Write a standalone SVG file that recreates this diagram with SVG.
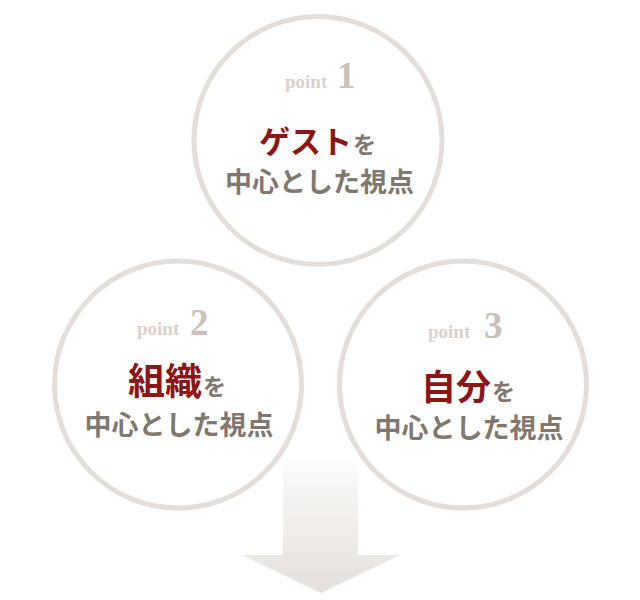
<svg xmlns="http://www.w3.org/2000/svg" width="640" height="600" viewBox="0 0 640 600">
<style>
.ring{fill:#ffffff;stroke:#e3ded9;stroke-width:5}
.pt{font-family:"Liberation Serif",serif;font-weight:bold;fill:#d9d2cb;font-size:19px}
.num{font-family:"Liberation Serif",serif;font-weight:bold;fill:#c9c1b9;font-size:37px}
.key{font-family:"Noto Sans CJK JP",sans-serif;font-weight:bold;fill:#8c1616}
.sub{font-family:"Noto Sans CJK JP",sans-serif;font-weight:bold;fill:#80776f}
</style>
<defs>
<linearGradient id="ag" x1="0" y1="455" x2="0" y2="593" gradientUnits="userSpaceOnUse">
<stop offset="0" stop-color="#ffffff"/>
<stop offset="0.3" stop-color="#f5f3f1"/>
<stop offset="1" stop-color="#e5e0dc"/>
</linearGradient>
</defs>
<g id="arrow">
<path d="M283 455 H358 V555 H400 L321 593 L242 555 H283 Z" fill="url(#ag)"/>
</g>
<g id="point1">
<circle class="ring" cx="318" cy="140.5" r="124"/>
<text x="285" y="88" class="pt">point</text>
<text x="337" y="88" class="num">1</text>
<text x="259" y="153" class="key" font-size="31">ゲスト</text>
<text x="353" y="153" class="sub" font-size="23">を</text>
<text x="319.5" y="192" class="sub" font-size="27" text-anchor="middle">中心とした視点</text>
</g>
<g id="point2">
<circle class="ring" cx="178" cy="384.5" r="123.5"/>
<text x="137" y="335" class="pt">point</text>
<text x="190" y="335" class="num">2</text>
<text x="128" y="395" class="key" font-size="37">組織</text>
<text x="203" y="395" class="sub" font-size="23">を</text>
<text x="179" y="435" class="sub" font-size="27" text-anchor="middle">中心とした視点</text>
</g>
<g id="point3">
<circle class="ring" cx="463" cy="384.5" r="123.5"/>
<text x="428" y="338" class="pt">point</text>
<text x="484" y="338" class="num">3</text>
<text x="421" y="400" class="key" font-size="35">自分</text>
<text x="492" y="400" class="sub" font-size="23">を</text>
<text x="469" y="438" class="sub" font-size="27" text-anchor="middle">中心とした視点</text>
</g>
<g id="connectors"></g>
</svg>
